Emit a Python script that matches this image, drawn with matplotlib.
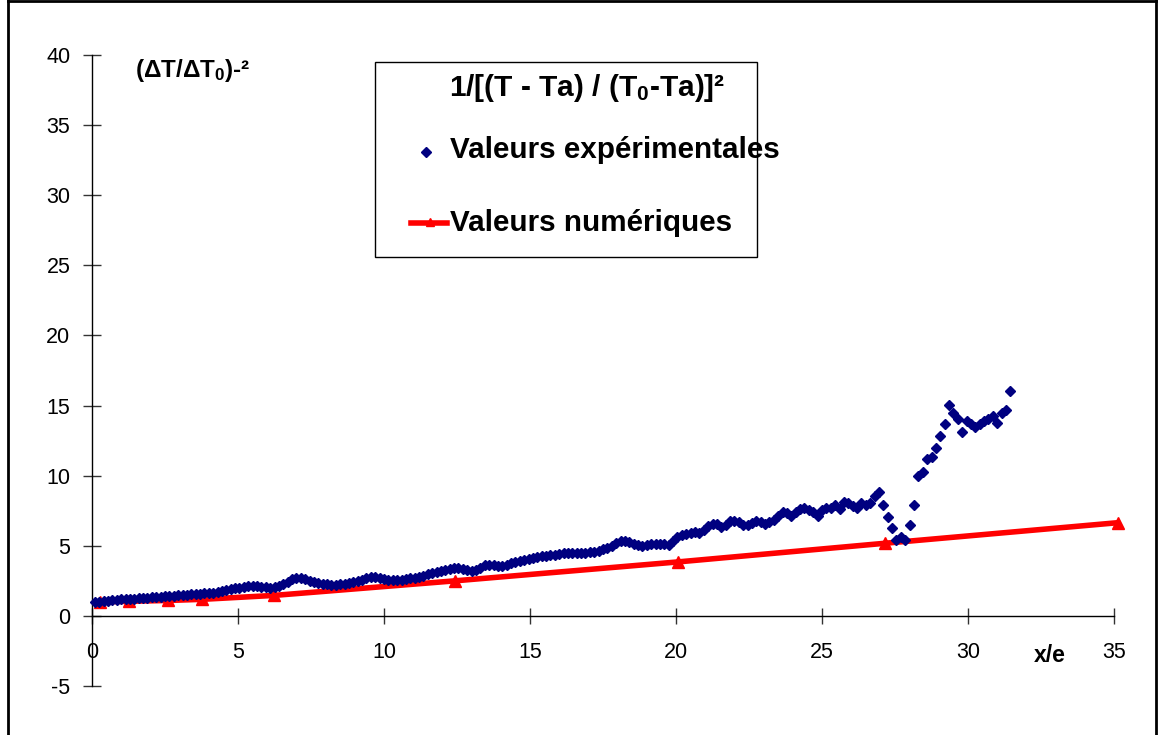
import matplotlib
matplotlib.use("Agg")
import matplotlib.pyplot as plt
from matplotlib.lines import Line2D
from matplotlib.patches import Rectangle

plt.rcParams['font.family'] = ['Liberation Sans', 'DejaVu Sans']
plt.rcParams['axes.unicode_minus'] = False
plt.rcParams['mathtext.fontset'] = 'custom'
plt.rcParams['mathtext.rm'] = 'Liberation Sans:bold'
plt.rcParams['mathtext.it'] = 'Liberation Sans:bold'
plt.rcParams['mathtext.bf'] = 'Liberation Sans:bold'
plt.rcParams['mathtext.default'] = 'rm'

# Measured profile: 1/[(T - Ta)/(T0 - Ta)]^2 versus x/e
x_exp = [
    0.10, 0.25, 0.40, 0.55, 0.70, 0.85, 1.00, 1.15, 1.30, 1.45,
    1.60, 1.75, 1.90, 2.05, 2.20, 2.35, 2.50, 2.65, 2.80, 2.95,
    3.10, 3.25, 3.40, 3.55, 3.70, 3.85, 4.00, 4.15, 4.30, 4.45,
    4.60, 4.75, 4.90, 5.05, 5.20, 5.35, 5.50, 5.65, 5.80, 5.95,
    6.10, 6.25, 6.40, 6.55, 6.70, 6.85, 7.00, 7.15, 7.30, 7.45,
    7.60, 7.75, 7.90, 8.05, 8.20, 8.35, 8.50, 8.65, 8.80, 8.95,
    9.10, 9.25, 9.40, 9.55, 9.70, 9.85, 10.00, 10.15, 10.30, 10.45,
    10.60, 10.75, 10.90, 11.05, 11.20, 11.35, 11.50, 11.65, 11.80, 11.95,
    12.10, 12.25, 12.40, 12.55, 12.70, 12.85, 13.00, 13.15, 13.30, 13.45,
    13.60, 13.75, 13.90, 14.05, 14.20, 14.35, 14.50, 14.65, 14.80, 14.95,
    15.10, 15.25, 15.40, 15.55, 15.70, 15.85, 16.00, 16.15, 16.30, 16.45,
    16.60, 16.75, 16.90, 17.05, 17.20, 17.35, 17.50, 17.65, 17.80, 17.95,
    18.10, 18.25, 18.40, 18.55, 18.70, 18.85, 19.00, 19.15, 19.30, 19.45,
    19.60, 19.75, 19.90, 20.05, 20.20, 20.35, 20.50, 20.65, 20.80, 20.95,
    21.10, 21.25, 21.40, 21.55, 21.70, 21.85, 22.00, 22.15, 22.30, 22.45,
    22.60, 22.75, 22.90, 23.05, 23.20, 23.35, 23.50, 23.65, 23.80, 23.95,
    24.10, 24.25, 24.40, 24.55, 24.70, 24.85, 25.00, 25.15, 25.30, 25.45,
    25.60, 25.75, 25.90, 26.05, 26.20, 26.35, 26.50, 26.65, 26.80, 26.95,
    27.10, 27.25, 27.40, 27.55, 27.70, 27.85, 28.00, 28.15, 28.30, 28.45,
    28.60, 28.75, 28.90, 29.05, 29.20, 29.35, 29.50, 29.65, 29.80, 29.95,
    30.10, 30.25, 30.40, 30.55, 30.70, 30.85, 31.00, 31.15, 31.30, 31.45,
]
y_exp = [
    1.00, 1.02, 1.05, 1.08, 1.11, 1.14, 1.17, 1.18, 1.20, 1.22,
    1.25, 1.27, 1.30, 1.33, 1.35, 1.37, 1.39, 1.41, 1.43, 1.46,
    1.48, 1.51, 1.53, 1.55, 1.58, 1.60, 1.63, 1.66, 1.71, 1.78,
    1.85, 1.91, 1.96, 2.02, 2.08, 2.12, 2.13, 2.12, 2.09, 2.05,
    2.02, 2.03, 2.12, 2.28, 2.45, 2.60, 2.68, 2.67, 2.61, 2.52,
    2.42, 2.34, 2.28, 2.25, 2.22, 2.23, 2.25, 2.28, 2.33, 2.39,
    2.47, 2.58, 2.70, 2.78, 2.74, 2.67, 2.62, 2.58, 2.54, 2.53,
    2.57, 2.62, 2.67, 2.73, 2.80, 2.88, 2.96, 3.04, 3.12, 3.19,
    3.26, 3.33, 3.40, 3.41, 3.35, 3.28, 3.23, 3.30, 3.45, 3.60,
    3.62, 3.60, 3.58, 3.59, 3.65, 3.74, 3.84, 3.93, 3.99, 4.05,
    4.11, 4.18, 4.24, 4.28, 4.33, 4.37, 4.41, 4.45, 4.47, 4.48,
    4.49, 4.51, 4.52, 4.55, 4.59, 4.64, 4.74, 4.86, 5.00, 5.20,
    5.35, 5.33, 5.26, 5.16, 5.09, 5.01, 5.08, 5.15, 5.16, 5.15,
    5.10, 5.05, 5.35, 5.62, 5.76, 5.87, 5.92, 5.98, 5.91, 6.12,
    6.40, 6.52, 6.56, 6.35, 6.45, 6.75, 6.77, 6.70, 6.50, 6.45,
    6.62, 6.80, 6.70, 6.58, 6.70, 6.82, 7.15, 7.38, 7.35, 7.10,
    7.38, 7.60, 7.72, 7.58, 7.40, 7.12, 7.55, 7.68, 7.72, 7.90,
    7.62, 8.15, 8.03, 7.86, 7.68, 8.08, 7.90, 8.05, 8.55, 8.86,
    7.90, 7.08, 6.25, 5.42, 5.60, 5.42, 6.50, 7.90, 9.98, 10.29,
    11.17, 11.31, 11.95, 12.85, 13.66, 15.04, 14.49, 14.02, 13.14, 13.92,
    13.68, 13.45, 13.68, 13.92, 14.02, 14.25, 13.78, 14.49, 14.68, 16.06,
]

# Numerical model
x_num = [0.27, 1.27, 2.60, 3.77, 6.23, 12.43, 20.07, 27.16, 35.15]
y_num = [1.00, 1.04, 1.10, 1.18, 1.46, 2.50, 3.85, 5.18, 6.65]

x_ticks = [0, 5, 10, 15, 20, 25, 30, 35]
y_ticks = [-5, 0, 5, 10, 15, 20, 25, 30, 35, 40]

W, H = 1158, 735
fig = plt.figure(figsize=(W / 100, H / 100), dpi=100)


def fx(px):
    return px / W


def fy(py):
    return 1 - py / H


ax = fig.add_axes([fx(92), fy(686), fx(1114) - fx(92), fy(55) - fy(686)])
ax.set_xlim(0, 35)
ax.set_ylim(-5, 40)

ax.plot(x_num, y_num, color='#FF0000', lw=4.0, marker='^', markersize=8,
        zorder=3, clip_on=False, solid_capstyle='butt')
ax.plot(x_exp, y_exp, linestyle='none', marker='D', markersize=4.8,
        color='#000080', markeredgecolor='#000080', zorder=4, clip_on=False)

for side in ('top', 'right'):
    ax.spines[side].set_visible(False)
ax.spines['bottom'].set_position(('data', 0))
ax.spines['bottom'].set_bounds(0, 35)
ax.spines['left'].set_linewidth(1.0)
ax.spines['bottom'].set_linewidth(1.0)

ax.set_xticks(x_ticks)
ax.set_yticks(y_ticks)
ax.tick_params(axis='y', direction='inout', length=13, width=1.0,
               color='#333333', pad=9, labelsize=15.5)
ax.tick_params(axis='x', direction='inout', length=12, width=1.0,
               color='#333333', pad=13, labelsize=15.5)

fig.text(fx(1066), fy(656), 'x/e', fontsize=16.5, fontweight='bold',
         ha='right', va='center')

fig.text(fx(135), fy(71), '(ΔT/ΔT$_0$)-²', fontsize=17.5,
         fontweight='bold', ha='left', va='center')

# Legend box
fig.patches.append(Rectangle((fx(375), fy(257)), fx(757) - fx(375),
                             fy(62) - fy(257), transform=fig.transFigure,
                             facecolor='white', edgecolor='black', lw=1.0,
                             zorder=5))
fig.text(fx(587), fy(88), '1/[(T - Ta) / (T$_0$-Ta)]²', fontsize=21.5,
         fontweight='bold', ha='center', va='center', zorder=6)
fig.lines.append(Line2D([fx(426)], [fy(152)], transform=fig.transFigure,
                        linestyle='none', marker='D', markersize=4.8,
                        color='#000080', zorder=6))
fig.text(fx(450), fy(150), 'Valeurs expérimentales', fontsize=21.3,
         fontweight='bold', ha='left', va='center', zorder=6)
fig.lines.append(Line2D([fx(411), fx(447)], [fy(223), fy(223)],
                        transform=fig.transFigure, color='#FF0000', lw=4.0,
                        zorder=6))
fig.lines.append(Line2D([fx(430)], [fy(222)], transform=fig.transFigure,
                        linestyle='none', marker='^', markersize=6,
                        color='#FF0000', zorder=6))
fig.text(fx(450), fy(223), 'Valeurs numériques', fontsize=21.3,
         fontweight='bold', ha='left', va='center', zorder=6)

# Chart area frame
for xs, ys in (([fx(8), fx(8)], [0, 1]),
               ([fx(8), fx(1156)], [fy(1), fy(1)]),
               ([fx(1156), fx(1156)], [0, 1])):
    fig.lines.append(Line2D(xs, ys, transform=fig.transFigure,
                            color='black', lw=2.0))

fig.savefig('out.png', dpi=100)
